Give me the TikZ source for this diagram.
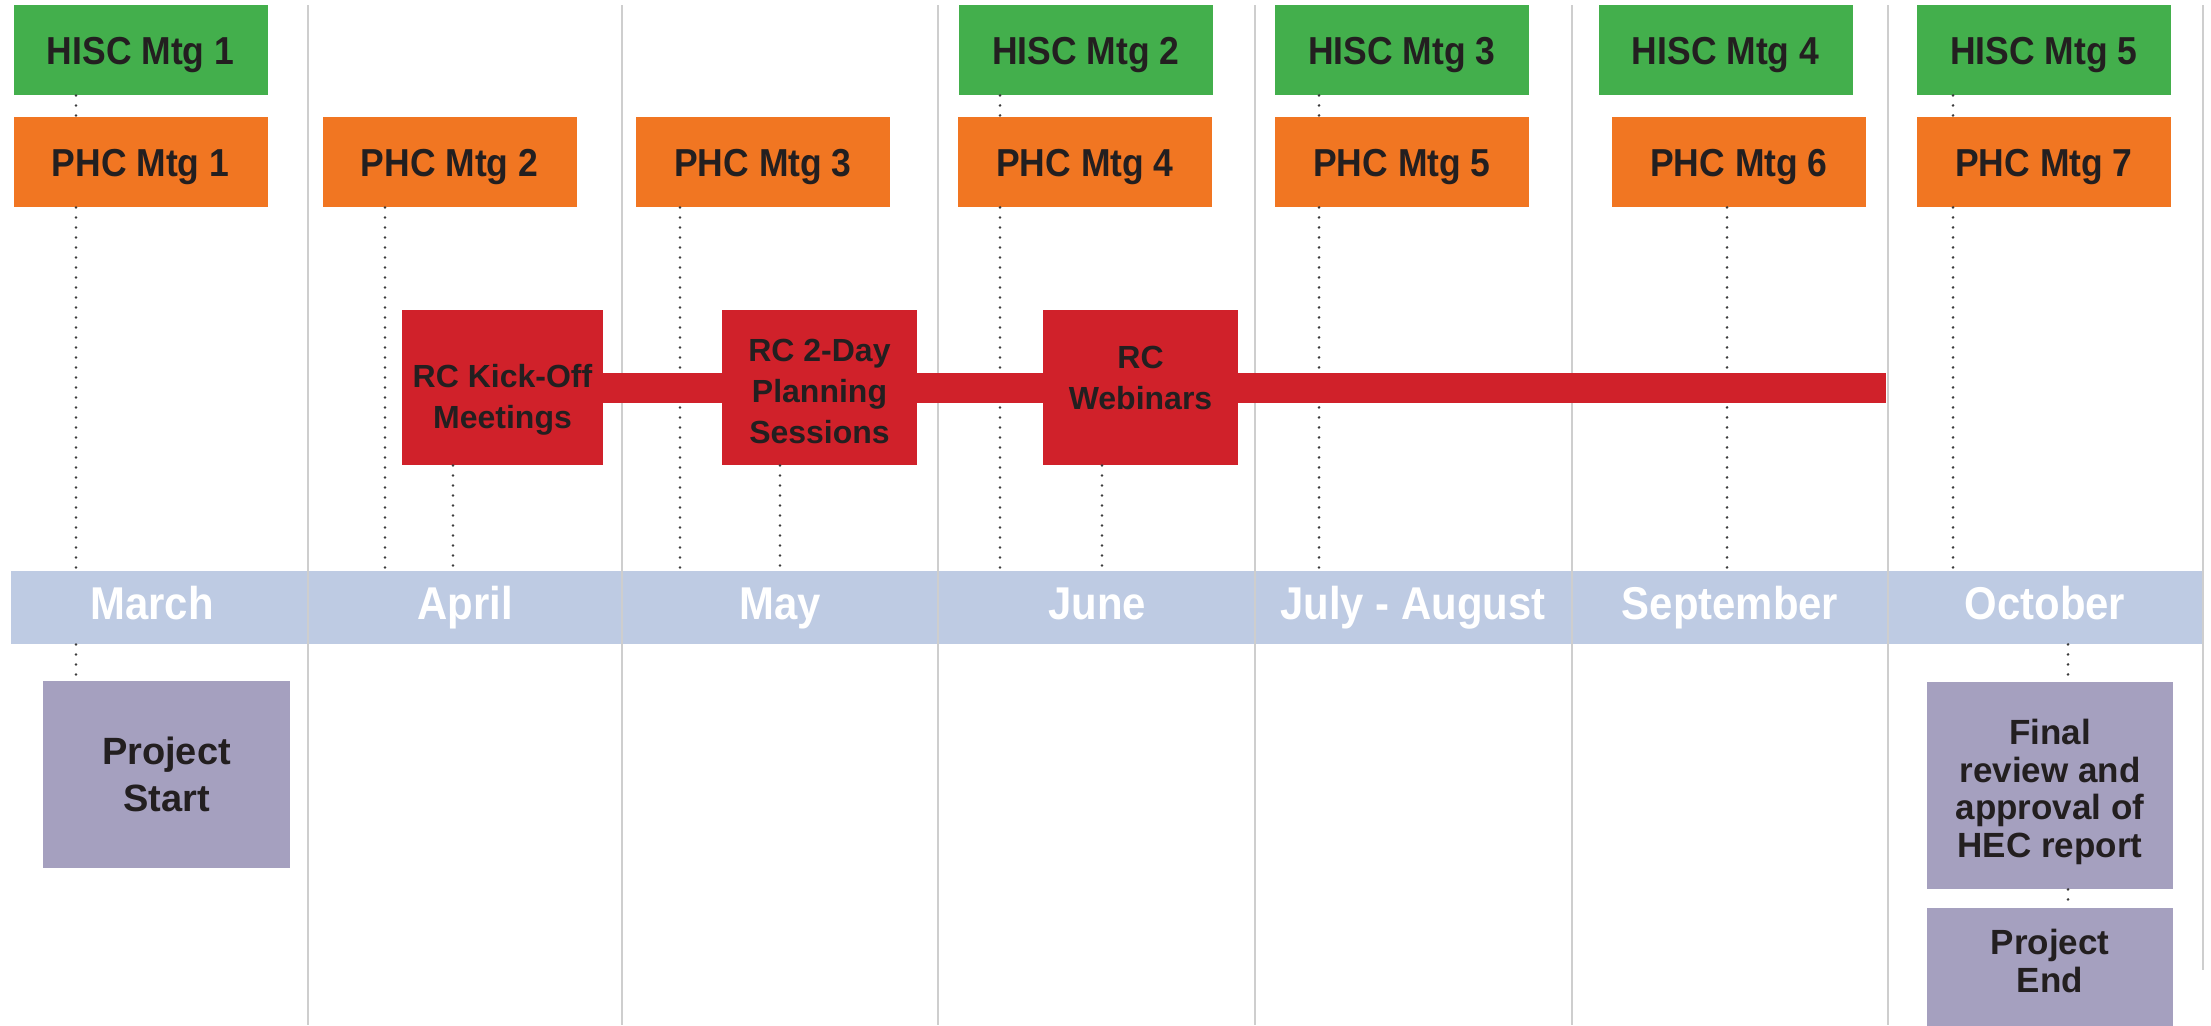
\documentclass[tikz,border=0pt]{standalone}
\usepackage{fontspec}
\setmainfont{Liberation Sans}
\newfontfamily\condf[FakeStretch=0.91]{Liberation Sans}
\definecolor{hgreen}{RGB}{67,175,76}
\definecolor{porange}{RGB}{241,118,34}
\definecolor{rcred}{RGB}{208,33,42}
\definecolor{mpurple}{RGB}{165,160,191}
\definecolor{barblue}{RGB}{190,203,227}
\definecolor{sepgray}{RGB}{206,206,206}
\definecolor{ink}{RGB}{35,31,32}
\definecolor{dotgray}{RGB}{60,60,60}
\begin{document}
\begin{tikzpicture}[x=0.5pt,y=-0.5pt,
  mtg/.style={inner sep=0pt, minimum width=127pt, minimum height=45pt, text height=14pt, text depth=0pt, text=ink, font=\condf\bfseries\fontsize{19.5pt}{22pt}\selectfont},
  hisc/.style={mtg, fill=hgreen},
  phc/.style={mtg, fill=porange},
  rcbox/.style={fill=rcred, inner sep=0pt, minimum height=77.5pt, align=center, text=ink, font=\bfseries\fontsize{16pt}{20.5pt}\selectfont},
  milestone/.style={fill=mpurple, inner sep=0pt, align=center, text=ink},
  month/.style={text=white, anchor=base, inner sep=0pt, font=\condf\bfseries\fontsize{23pt}{26pt}\selectfont},
  sepline/.style={draw=sepgray, line width=1.1pt},
  dotl/.style={draw=dotgray, line width=1.4pt, line cap=round, dash pattern=on 0pt off 5pt},
  band/.style={draw=rcred, line width=15pt}]
\useasboundingbox (0,0) rectangle (2211,1025);
\fill[white] (0,0) rectangle (2211,1025);
% month bar
\node[fill=barblue, inner sep=0pt, minimum width=1096pt, minimum height=36.5pt] (bar) at (1107,607.5) {};
% column separators
\foreach \sx in {308,622,938,1255,1572,1888}{\draw[sepline] (\sx,5) -- (\sx,1025);}
\draw[sepline] (2203,5) -- (2203,970);
% month labels
\node[month] (m1) at (152,619) {March};
\node[month] (m2) at (465,619) {April};
\node[month] (m3) at (780,619) {May};
\node[month] (m4) at (1097,619) {June};
\node[month] (m5) at (1413,619) {July - August};
\node[month] (m6) at (1730,619) {September};
\node[month] (m7) at (2045,619) {October};
% meeting boxes
\node[hisc] (h1) at (140.5,50) {HISC Mtg 1};
\node[hisc] (h2) at (1086,50) {HISC Mtg 2};
\node[hisc] (h3) at (1402,50) {HISC Mtg 3};
\node[hisc] (h4) at (1725.5,50) {HISC Mtg 4};
\node[hisc] (h5) at (2044,50) {HISC Mtg 5};
\node[phc] (p1) at (140.5,162) {PHC Mtg 1};
\node[phc] (p2) at (449.5,162) {PHC Mtg 2};
\node[phc] (p3) at (763,162) {PHC Mtg 3};
\node[phc] (p4) at (1085,162) {PHC Mtg 4};
\node[phc] (p5) at (1402,162) {PHC Mtg 5};
\node[phc] (p6) at (1739,162) {PHC Mtg 6};
\node[phc] (p7) at (2044,162) {PHC Mtg 7};
% RC boxes (struts set the text's vertical position as in the original)
\node[rcbox, minimum width=100.5pt] (kick) at (502.5,387.5) {\rule{0pt}{23.9pt}RC Kick-Off\\Meetings};
\node[rcbox, minimum width=97.5pt] (two) at (819.5,387.5) {\rule{0pt}{15.2pt}RC 2-Day\\Planning\\Sessions};
\node[rcbox, minimum width=97.5pt] (web) at (1140.5,387.5) {RC\\Webinars\rule[-9.3pt]{0pt}{9.3pt}};
\coordinate (bandend) at (1886,387.5);
% milestones
\node[milestone, minimum width=123.5pt, minimum height=93.5pt, font=\bfseries\fontsize{19pt}{23.5pt}\selectfont] (start) at (166.5,774.5) {Project\\Start};
\node[milestone, minimum width=123pt, minimum height=103.5pt, font=\bfseries\fontsize{17.5pt}{18.7pt}\selectfont] (final) at (2050,785.5) {\rule{0pt}{19.2pt}Final\\review and\\approval of\\HEC report};
\fill[mpurple] (2050,961) ++(-61.5pt,-25.5pt) rectangle ++(123pt,-40pt);
\node[milestone, minimum width=123pt, minimum height=53pt, font=\bfseries\fontsize{17.5pt}{18.7pt}\selectfont] (pend) at (2050,961) {Project\\End};
% dotted guides
\draw[dotl] (h1.south -| 76,0) -- (p1.north -| 76,0);
\draw[dotl] (h2.south -| 1000,0) -- (p4.north -| 1000,0);
\draw[dotl] (h3.south -| 1319,0) -- (p5.north -| 1319,0);
\draw[dotl] (h5.south -| 1953,0) -- (p7.north -| 1953,0);
\draw[dotl] (p1.south -| 76,0) -- (bar.north -| 76,0);
\draw[dotl] (p2.south -| 385,0) -- (bar.north -| 385,0);
\draw[dotl] (p3.south -| 680,0) -- (bar.north -| 680,0);
\draw[dotl] (p4.south -| 1000,0) -- (bar.north -| 1000,0);
\draw[dotl] (p5.south -| 1319,0) -- (bar.north -| 1319,0);
\draw[dotl] (p6.south -| 1727,0) -- (bar.north -| 1727,0);
\draw[dotl] (p7.south -| 1953,0) -- (bar.north -| 1953,0);
\draw[dotl] (kick.south -| 453,0) -- (bar.north -| 453,0);
\draw[dotl] (two.south -| 780,0) -- (bar.north -| 780,0);
\draw[dotl] (web.south -| 1102,0) -- (bar.north -| 1102,0);
\draw[dotl] (bar.south -| 76,0) -- (start.north -| 76,0);
\draw[dotl] (bar.south -| 2068,0) -- (final.north -| 2068,0);
\draw[dotl] (final.south -| 2068,0) -- (pend.north -| 2068,0);
% RC band (drawn over the dotted guides and separators)
\draw[band] (kick.east) -- (two.west);
\draw[band] (two.east) -- (web.west);
\draw[band] (web.east) -- (bandend);
\end{tikzpicture}
\end{document}
